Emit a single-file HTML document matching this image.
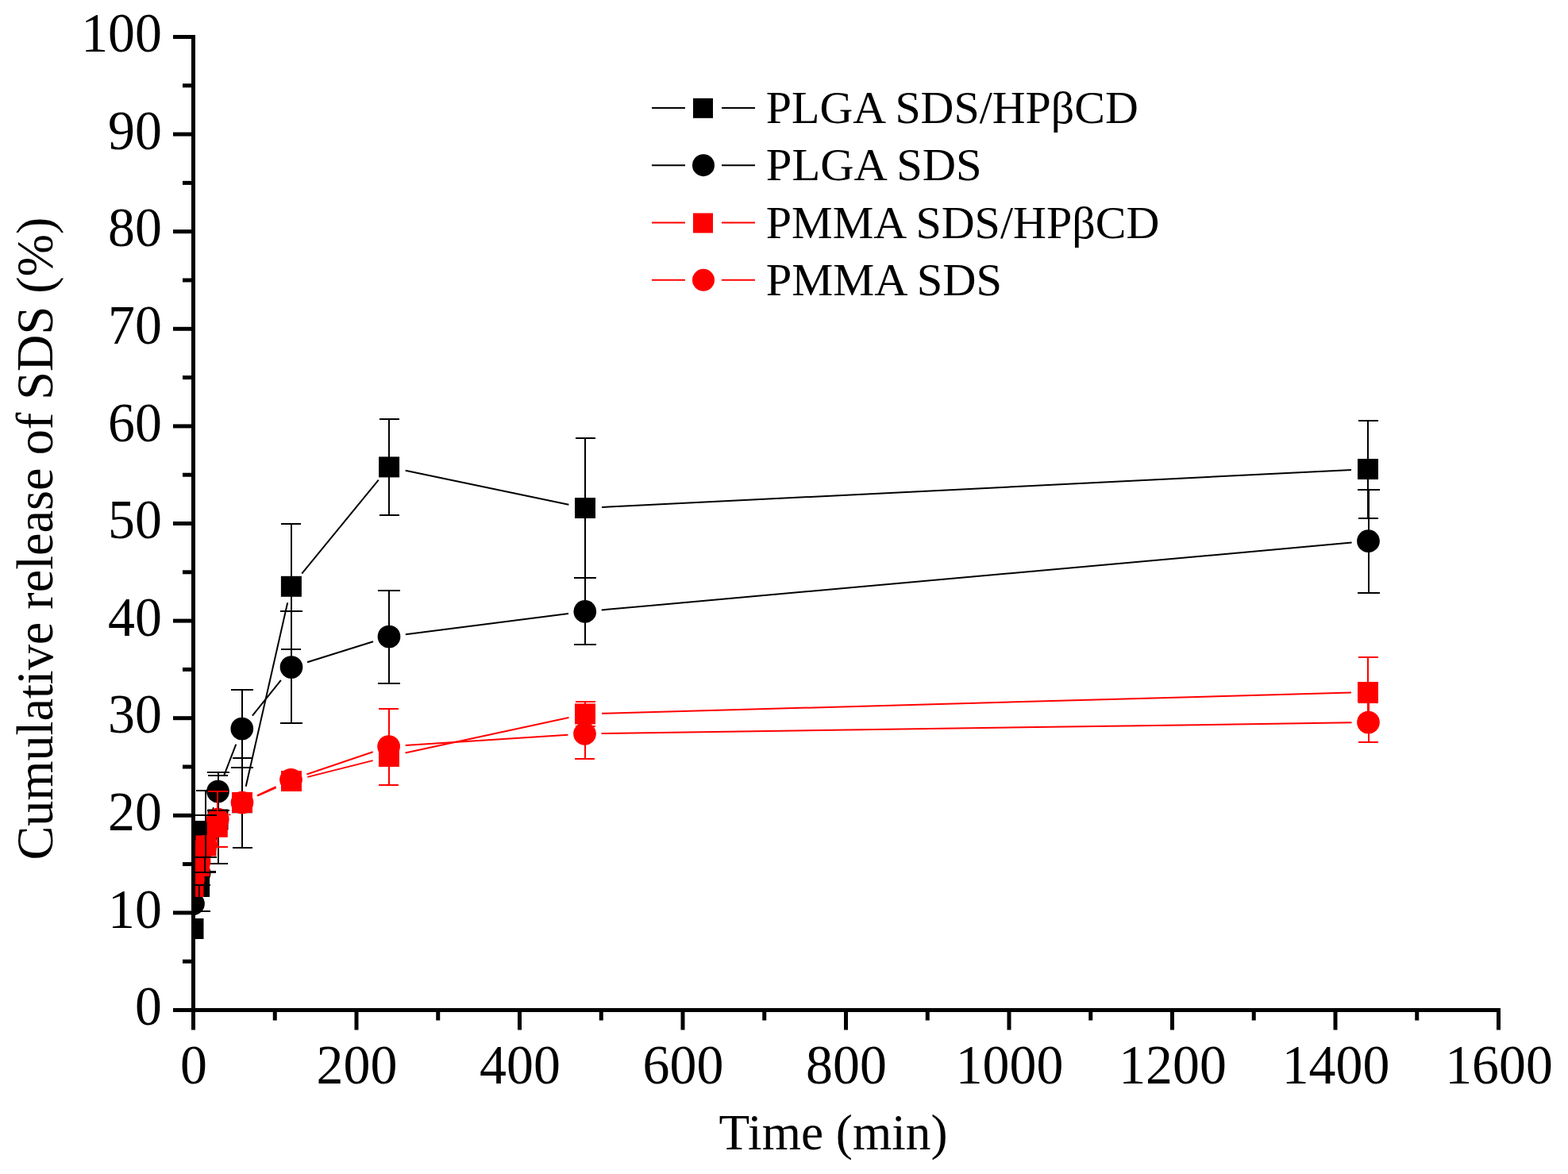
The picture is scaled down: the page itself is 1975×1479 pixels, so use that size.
<!DOCTYPE html>
<html><head><meta charset="utf-8"><title>Cumulative release of SDS</title>
<style>html,body{margin:0;padding:0;background:#fff;width:1975px;height:1479px;overflow:hidden}svg{display:block}</style>
</head><body><svg width="1975" height="1479" viewBox="0 0 1975 1479"><defs><clipPath id="pc"><rect x="241" y="0" width="1700" height="1272"/></clipPath></defs><g clip-path="url(#pc)"><g stroke="#000" stroke-width="2.0" fill="none"><line x1="246.5" y1="1149.2" x2="248.1" y2="1137.8"/><line x1="253.5" y1="1096.1" x2="256.6" y2="1067.9"/><line x1="309.7" y1="990.8" x2="362.2" y2="759.3"/><line x1="380.2" y1="722.6" x2="476.8" y2="604.6"/><line x1="510.7" y1="592.7" x2="716.4" y2="635.7"/><line x1="758.0" y1="639.0" x2="1702.0" y2="592.0"/></g><g fill="#000"><rect x="230.5" y="1157.0" width="26.0" height="26.0"/><rect x="238.1" y="1104.0" width="26.0" height="26.0"/><rect x="246.0" y="1034.0" width="26.0" height="26.0"/><rect x="261.5" y="1019.5" width="26.0" height="26.0"/><rect x="292.0" y="998.3" width="26.0" height="26.0"/><rect x="353.9" y="725.8" width="26.0" height="26.0"/><rect x="477.1" y="575.4" width="26.0" height="26.0"/><rect x="724.0" y="627.0" width="26.0" height="26.0"/><rect x="1710.0" y="578.0" width="26.0" height="26.0"/></g><g stroke="#000" stroke-width="2.0" fill="none"><line x1="254.6" y1="1079.3" x2="255.5" y2="1074.2"/><line x1="264.6" y1="1033.2" x2="268.9" y2="1017.3"/><line x1="282.0" y1="977.4" x2="297.3" y2="937.6"/><line x1="317.9" y1="901.6" x2="353.9" y2="856.9"/><line x1="387.0" y1="834.2" x2="470.0" y2="808.3"/><line x1="510.8" y1="799.3" x2="716.0" y2="773.1"/><line x1="757.7" y1="768.5" x2="1702.6" y2="683.6"/></g><g fill="#000"><circle cx="243.5" cy="1138.5" r="14.35"/><circle cx="251.1" cy="1100.0" r="14.35"/><circle cx="259.0" cy="1053.5" r="14.35"/><circle cx="274.5" cy="997.0" r="14.35"/><circle cx="304.8" cy="918.0" r="14.35"/><circle cx="367.0" cy="840.5" r="14.35"/><circle cx="490.0" cy="802.0" r="14.35"/><circle cx="736.8" cy="770.4" r="14.35"/><circle cx="1723.5" cy="681.7" r="14.35"/></g><g stroke="#000" stroke-width="2.0" shape-rendering="crispEdges"><line x1="251.1" y1="1086.0" x2="251.1" y2="1148.0"/><line x1="238.6" y1="1086.0" x2="263.6" y2="1086.0"/><line x1="238.6" y1="1148.0" x2="263.6" y2="1148.0"/><line x1="259.0" y1="996.0" x2="259.0" y2="1098.0"/><line x1="246.5" y1="996.0" x2="271.5" y2="996.0"/><line x1="246.5" y1="1098.0" x2="271.5" y2="1098.0"/><line x1="274.5" y1="977.0" x2="274.5" y2="1088.0"/><line x1="262.0" y1="977.0" x2="287.0" y2="977.0"/><line x1="262.0" y1="1088.0" x2="287.0" y2="1088.0"/><line x1="305.0" y1="954.9" x2="305.0" y2="1067.7"/><line x1="292.5" y1="954.9" x2="317.5" y2="954.9"/><line x1="292.5" y1="1067.7" x2="317.5" y2="1067.7"/><line x1="366.9" y1="659.6" x2="366.9" y2="818.0"/><line x1="354.4" y1="659.6" x2="379.4" y2="659.6"/><line x1="354.4" y1="818.0" x2="379.4" y2="818.0"/><line x1="490.1" y1="527.9" x2="490.1" y2="648.9"/><line x1="477.6" y1="527.9" x2="502.6" y2="527.9"/><line x1="477.6" y1="648.9" x2="502.6" y2="648.9"/><line x1="737.0" y1="551.7" x2="737.0" y2="728.3"/><line x1="724.5" y1="551.7" x2="749.5" y2="551.7"/><line x1="724.5" y1="728.3" x2="749.5" y2="728.3"/><line x1="1723.0" y1="529.5" x2="1723.0" y2="652.5"/><line x1="1710.5" y1="529.5" x2="1735.5" y2="529.5"/><line x1="1710.5" y1="652.5" x2="1735.5" y2="652.5"/></g><g stroke="#f00" stroke-width="2.0" fill="none"><line x1="288.7" y1="1027.0" x2="290.1" y2="1025.8"/><line x1="324.3" y1="1002.6" x2="347.7" y2="992.4"/><line x1="387.4" y1="978.9" x2="469.6" y2="958.1"/><line x1="510.5" y1="948.5" x2="716.5" y2="903.9"/><line x1="758.0" y1="898.8" x2="1702.0" y2="872.6"/></g><g fill="#f00"><rect x="230.5" y="1104.0" width="26.0" height="26.0"/><rect x="238.1" y="1078.0" width="26.0" height="26.0"/><rect x="246.5" y="1052.5" width="26.0" height="26.0"/><rect x="260.8" y="1028.8" width="26.0" height="26.0"/><rect x="292.0" y="998.0" width="26.0" height="26.0"/><rect x="354.0" y="971.0" width="26.0" height="26.0"/><rect x="477.0" y="940.0" width="26.0" height="26.0"/><rect x="724.0" y="886.4" width="26.0" height="26.0"/><rect x="1710.0" y="859.0" width="26.0" height="26.0"/></g><g stroke="#f00" stroke-width="2.0" fill="none"><line x1="324.0" y1="1002.1" x2="347.5" y2="991.2"/><line x1="386.4" y1="975.5" x2="469.7" y2="947.3"/><line x1="510.6" y1="939.1" x2="715.5" y2="925.8"/><line x1="757.5" y1="924.1" x2="1702.5" y2="910.3"/></g><g fill="#f00"><circle cx="243.5" cy="1108.0" r="14.35"/><circle cx="251.1" cy="1085.0" r="14.35"/><circle cx="259.0" cy="1066.0" r="14.35"/><circle cx="274.3" cy="1032.0" r="14.35"/><circle cx="305.0" cy="1011.0" r="14.35"/><circle cx="366.5" cy="982.3" r="14.35"/><circle cx="489.6" cy="940.5" r="14.35"/><circle cx="736.5" cy="924.4" r="14.35"/><circle cx="1723.5" cy="910.0" r="14.35"/></g><g stroke="#000" stroke-width="2.0" shape-rendering="crispEdges"><line x1="259.0" y1="1027.0" x2="259.0" y2="1080.0"/><line x1="245.0" y1="1027.0" x2="273.0" y2="1027.0"/><line x1="245.0" y1="1080.0" x2="273.0" y2="1080.0"/><line x1="274.5" y1="973.0" x2="274.5" y2="1021.0"/><line x1="260.5" y1="973.0" x2="288.5" y2="973.0"/><line x1="260.5" y1="1021.0" x2="288.5" y2="1021.0"/><line x1="304.8" y1="869.0" x2="304.8" y2="967.0"/><line x1="290.8" y1="869.0" x2="318.8" y2="869.0"/><line x1="290.8" y1="967.0" x2="318.8" y2="967.0"/><line x1="367.0" y1="770.1" x2="367.0" y2="910.9"/><line x1="353.0" y1="770.1" x2="381.0" y2="770.1"/><line x1="353.0" y1="910.9" x2="381.0" y2="910.9"/><line x1="490.0" y1="743.5" x2="490.0" y2="860.5"/><line x1="476.0" y1="743.5" x2="504.0" y2="743.5"/><line x1="476.0" y1="860.5" x2="504.0" y2="860.5"/><line x1="736.8" y1="728.4" x2="736.8" y2="812.4"/><line x1="722.8" y1="728.4" x2="750.8" y2="728.4"/><line x1="722.8" y1="812.4" x2="750.8" y2="812.4"/><line x1="1723.5" y1="616.7" x2="1723.5" y2="746.7"/><line x1="1709.5" y1="616.7" x2="1737.5" y2="616.7"/><line x1="1709.5" y1="746.7" x2="1737.5" y2="746.7"/></g><g stroke="#000" stroke-width="2" shape-rendering="crispEdges"><line x1="243" y1="1098.5" x2="272" y2="1098.5"/><line x1="258" y1="1080" x2="258" y2="1098.5"/><line x1="251" y1="1115" x2="251" y2="1148"/><line x1="241" y1="1115" x2="265" y2="1115"/><line x1="241" y1="1148" x2="265" y2="1148"/></g><g stroke="#f00" stroke-width="2.0" shape-rendering="crispEdges"><line x1="737.0" y1="884.0" x2="737.0" y2="914.8"/><line x1="724.5" y1="884.0" x2="749.5" y2="884.0"/><line x1="724.5" y1="914.8" x2="749.5" y2="914.8"/><line x1="1723.0" y1="828.0" x2="1723.0" y2="916.0"/><line x1="1710.5" y1="828.0" x2="1735.5" y2="828.0"/><line x1="1710.5" y1="916.0" x2="1735.5" y2="916.0"/></g><g stroke="#f00" stroke-width="2.0" shape-rendering="crispEdges"><line x1="274.3" y1="997.0" x2="274.3" y2="1067.0"/><line x1="261.8" y1="997.0" x2="286.8" y2="997.0"/><line x1="261.8" y1="1067.0" x2="286.8" y2="1067.0"/><line x1="489.6" y1="892.5" x2="489.6" y2="988.5"/><line x1="477.1" y1="892.5" x2="502.1" y2="892.5"/><line x1="477.1" y1="988.5" x2="502.1" y2="988.5"/><line x1="736.5" y1="892.8" x2="736.5" y2="956.0"/><line x1="724.0" y1="892.8" x2="749.0" y2="892.8"/><line x1="724.0" y1="956.0" x2="749.0" y2="956.0"/><line x1="1723.5" y1="885.0" x2="1723.5" y2="935.0"/><line x1="1711.0" y1="885.0" x2="1736.0" y2="885.0"/><line x1="1711.0" y1="935.0" x2="1736.0" y2="935.0"/></g></g><g stroke="#000" stroke-width="5" stroke-linecap="butt"><line x1="243.5" y1="44" x2="243.5" y2="1275"/><line x1="241" y1="1272.5" x2="1890" y2="1272.5"/><line x1="218" y1="1272.50" x2="243.5" y2="1272.50"/><line x1="218" y1="1149.90" x2="243.5" y2="1149.90"/><line x1="218" y1="1027.30" x2="243.5" y2="1027.30"/><line x1="218" y1="904.70" x2="243.5" y2="904.70"/><line x1="218" y1="782.10" x2="243.5" y2="782.10"/><line x1="218" y1="659.50" x2="243.5" y2="659.50"/><line x1="218" y1="536.90" x2="243.5" y2="536.90"/><line x1="218" y1="414.30" x2="243.5" y2="414.30"/><line x1="218" y1="291.70" x2="243.5" y2="291.70"/><line x1="218" y1="169.10" x2="243.5" y2="169.10"/><line x1="218" y1="46.50" x2="243.5" y2="46.50"/><line x1="230" y1="1211.20" x2="243.5" y2="1211.20"/><line x1="230" y1="1088.60" x2="243.5" y2="1088.60"/><line x1="230" y1="966.00" x2="243.5" y2="966.00"/><line x1="230" y1="843.40" x2="243.5" y2="843.40"/><line x1="230" y1="720.80" x2="243.5" y2="720.80"/><line x1="230" y1="598.20" x2="243.5" y2="598.20"/><line x1="230" y1="475.60" x2="243.5" y2="475.60"/><line x1="230" y1="353.00" x2="243.5" y2="353.00"/><line x1="230" y1="230.40" x2="243.5" y2="230.40"/><line x1="230" y1="107.80" x2="243.5" y2="107.80"/><line x1="243.50" y1="1272.5" x2="243.50" y2="1297.5"/><line x1="449.00" y1="1272.5" x2="449.00" y2="1297.5"/><line x1="654.50" y1="1272.5" x2="654.50" y2="1297.5"/><line x1="860.00" y1="1272.5" x2="860.00" y2="1297.5"/><line x1="1065.50" y1="1272.5" x2="1065.50" y2="1297.5"/><line x1="1271.00" y1="1272.5" x2="1271.00" y2="1297.5"/><line x1="1476.50" y1="1272.5" x2="1476.50" y2="1297.5"/><line x1="1682.00" y1="1272.5" x2="1682.00" y2="1297.5"/><line x1="1887.50" y1="1272.5" x2="1887.50" y2="1297.5"/><line x1="346.25" y1="1272.5" x2="346.25" y2="1285.5"/><line x1="551.75" y1="1272.5" x2="551.75" y2="1285.5"/><line x1="757.25" y1="1272.5" x2="757.25" y2="1285.5"/><line x1="962.75" y1="1272.5" x2="962.75" y2="1285.5"/><line x1="1168.25" y1="1272.5" x2="1168.25" y2="1285.5"/><line x1="1373.75" y1="1272.5" x2="1373.75" y2="1285.5"/><line x1="1579.25" y1="1272.5" x2="1579.25" y2="1285.5"/><line x1="1784.75" y1="1272.5" x2="1784.75" y2="1285.5"/></g><g font-family="Liberation Serif, serif" font-size="69.6" fill="#000"><text x="204" y="1291.1" text-anchor="end" textLength="33.9" lengthAdjust="spacingAndGlyphs">0</text><text x="204" y="1168.5" text-anchor="end" textLength="67.9" lengthAdjust="spacingAndGlyphs">10</text><text x="204" y="1045.9" text-anchor="end" textLength="67.9" lengthAdjust="spacingAndGlyphs">20</text><text x="204" y="923.3" text-anchor="end" textLength="67.9" lengthAdjust="spacingAndGlyphs">30</text><text x="204" y="800.7" text-anchor="end" textLength="67.9" lengthAdjust="spacingAndGlyphs">40</text><text x="204" y="678.1" text-anchor="end" textLength="67.9" lengthAdjust="spacingAndGlyphs">50</text><text x="204" y="555.5" text-anchor="end" textLength="67.9" lengthAdjust="spacingAndGlyphs">60</text><text x="204" y="432.9" text-anchor="end" textLength="67.9" lengthAdjust="spacingAndGlyphs">70</text><text x="204" y="310.3" text-anchor="end" textLength="67.9" lengthAdjust="spacingAndGlyphs">80</text><text x="204" y="187.7" text-anchor="end" textLength="67.9" lengthAdjust="spacingAndGlyphs">90</text><text x="204" y="65.1" text-anchor="end" textLength="101.8" lengthAdjust="spacingAndGlyphs">100</text><text x="244.0" y="1365.2" text-anchor="middle" textLength="33.9" lengthAdjust="spacingAndGlyphs">0</text><text x="449.5" y="1365.2" text-anchor="middle" textLength="101.8" lengthAdjust="spacingAndGlyphs">200</text><text x="655.0" y="1365.2" text-anchor="middle" textLength="101.8" lengthAdjust="spacingAndGlyphs">400</text><text x="860.5" y="1365.2" text-anchor="middle" textLength="101.8" lengthAdjust="spacingAndGlyphs">600</text><text x="1066.0" y="1365.2" text-anchor="middle" textLength="101.8" lengthAdjust="spacingAndGlyphs">800</text><text x="1271.5" y="1365.2" text-anchor="middle" textLength="135.7" lengthAdjust="spacingAndGlyphs">1000</text><text x="1477.0" y="1365.2" text-anchor="middle" textLength="135.7" lengthAdjust="spacingAndGlyphs">1200</text><text x="1682.5" y="1365.2" text-anchor="middle" textLength="135.7" lengthAdjust="spacingAndGlyphs">1400</text><text x="1888.0" y="1365.2" text-anchor="middle" textLength="135.7" lengthAdjust="spacingAndGlyphs">1600</text></g><text x="905.6" y="1448" font-family="Liberation Serif, serif" font-size="62.7" textLength="288.0" lengthAdjust="spacingAndGlyphs" fill="#000">Time (min)</text><text transform="translate(65.5,1083.5) rotate(-90)" x="0" y="0" font-family="Liberation Serif, serif" font-size="66" textLength="810" lengthAdjust="spacingAndGlyphs" fill="#000">Cumulative release of SDS (%)</text><g stroke="#000" stroke-width="2.0"><line x1="821" y1="135.9" x2="863" y2="135.9"/><line x1="909" y1="135.9" x2="951" y2="135.9"/></g><rect x="873.0" y="123.80000000000001" width="25" height="25" fill="#000"/><text x="964.8" y="154.8" textLength="469.0" lengthAdjust="spacingAndGlyphs" font-family="Liberation Serif, serif" font-size="56.0" fill="#000">PLGA SDS/HPβCD</text><g stroke="#000" stroke-width="2.0"><line x1="821" y1="208.2" x2="863" y2="208.2"/><line x1="909" y1="208.2" x2="951" y2="208.2"/></g><circle cx="886" cy="208.2" r="14" fill="#000"/><text x="964.8" y="227.1" textLength="271.9" lengthAdjust="spacingAndGlyphs" font-family="Liberation Serif, serif" font-size="56.0" fill="#000">PLGA SDS</text><g stroke="#f00" stroke-width="2.0"><line x1="821" y1="280.6" x2="863" y2="280.6"/><line x1="909" y1="280.6" x2="951" y2="280.6"/></g><rect x="873.0" y="268.5" width="25" height="25" fill="#f00"/><text x="964.8" y="299.5" textLength="495.5" lengthAdjust="spacingAndGlyphs" font-family="Liberation Serif, serif" font-size="56.0" fill="#000">PMMA SDS/HPβCD</text><g stroke="#f00" stroke-width="2.0"><line x1="821" y1="352.8" x2="863" y2="352.8"/><line x1="909" y1="352.8" x2="951" y2="352.8"/></g><circle cx="886" cy="352.8" r="14" fill="#f00"/><text x="964.8" y="371.7" textLength="297.2" lengthAdjust="spacingAndGlyphs" font-family="Liberation Serif, serif" font-size="56.0" fill="#000">PMMA SDS</text></svg></body></html>
